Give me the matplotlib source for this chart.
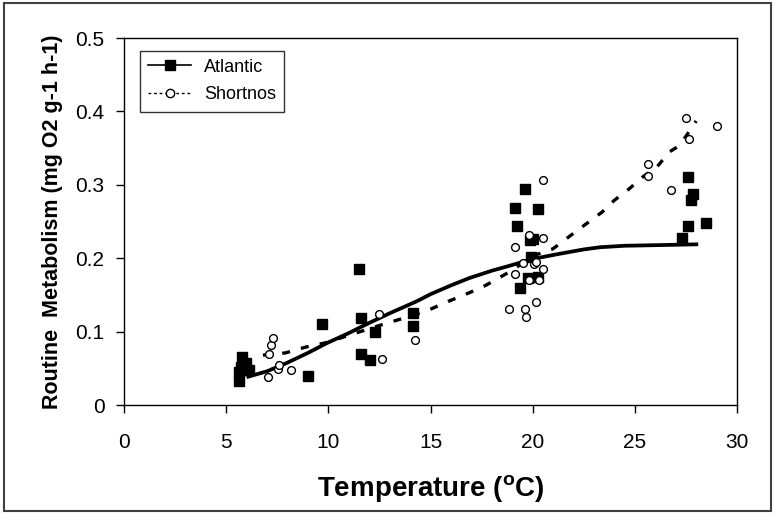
import matplotlib
matplotlib.use("Agg")
import matplotlib.pyplot as plt
from matplotlib.lines import Line2D
from matplotlib.patches import Rectangle

plt.rcParams['font.family'] = ['Liberation Sans', 'DejaVu Sans']
plt.rcParams['mathtext.fontset'] = 'custom'
plt.rcParams['mathtext.rm'] = 'Liberation Sans:bold'

# Atlantic sturgeon measurements
atl_temp = [5.62, 5.65, 5.72, 5.78, 5.98, 6.14, 9.0, 9.7, 11.48, 11.6, 11.6, 12.05,
            12.26, 14.14, 14.14, 19.15, 19.23, 19.36, 19.6, 19.77, 19.85, 20.0, 19.9,
            20.25, 20.25, 27.3, 27.6, 27.6, 27.76, 27.84, 28.5]
atl_rate = [0.033, 0.045, 0.052, 0.066, 0.057, 0.048, 0.0395, 0.111, 0.185, 0.118, 0.0695, 0.061,
            0.100, 0.126, 0.107, 0.269, 0.244, 0.160, 0.295, 0.173, 0.225, 0.226, 0.202,
            0.175, 0.267, 0.228, 0.310, 0.244, 0.280, 0.287, 0.248]

# Shortnose sturgeon measurements
sn_temp = [7.04, 7.12, 7.2, 7.28, 7.53, 7.6, 8.18, 12.47, 12.64, 14.22, 18.83, 19.15,
           19.15, 19.52, 19.6, 19.65, 19.8, 19.81, 20.04, 20.14, 20.18, 20.33, 20.5,
           20.5, 20.5, 25.64, 25.64, 26.75, 27.52, 27.65, 29.03]
sn_rate = [0.038, 0.069, 0.082, 0.092, 0.049, 0.0545, 0.048, 0.124, 0.063, 0.0886, 0.131, 0.215,
           0.178, 0.194, 0.131, 0.120, 0.170, 0.232, 0.192, 0.195, 0.141, 0.170, 0.306,
           0.228, 0.185, 0.328, 0.312, 0.293, 0.391, 0.363, 0.380]

# Trend curves
atl_fit_temp = [6.0, 7.0, 7.94, 9.0, 9.9, 11.0, 11.86, 13.0, 14.3, 15.0, 16.0, 16.9,
                18.0, 18.9, 20.0, 21.3, 22.5, 23.3, 24.5, 26.4, 28.1]
atl_fit_rate = [0.038, 0.046, 0.057, 0.071, 0.084, 0.098, 0.110, 0.125, 0.141, 0.151, 0.163, 0.173,
                0.183, 0.190, 0.199, 0.206, 0.212, 0.215, 0.217, 0.218, 0.219]

sn_fit_temp = [6.8, 7.9, 8.9, 9.9, 11.0, 12.8, 13.65, 14.87, 15.85, 16.9, 17.7, 18.9,
               19.5, 20.0, 21.0, 22.0, 23.4, 24.0, 24.7, 25.4, 26.1, 26.7, 27.1, 27.5, 28.0]
sn_fit_rate = [0.068, 0.071, 0.079, 0.085, 0.095, 0.111, 0.118, 0.129, 0.141, 0.153, 0.163, 0.182,
               0.193, 0.203, 0.213, 0.234, 0.263, 0.279, 0.294, 0.311, 0.325, 0.345, 0.352, 0.366, 0.387]

x_ticks = [0, 5, 10, 15, 20, 25, 30]
y_ticks = [0, 0.1, 0.2, 0.3, 0.4, 0.5]
y_tick_labels = ['0', '0.1', '0.2', '0.3', '0.4', '0.5']

fig = plt.figure(figsize=(7.75, 5.14), dpi=100)
ax = fig.add_axes([0.160, 0.212, 0.791, 0.714])

ax.plot(atl_fit_temp, atl_fit_rate, color='black', lw=2.7, solid_capstyle='butt', zorder=2)
ax.plot(sn_fit_temp, sn_fit_rate, color='black', lw=2.4, dashes=(2.4, 3.4), zorder=2)

ax.plot(atl_temp, atl_rate, linestyle='none', marker='s', ms=6.6,
        mfc='black', mec='black', zorder=3)
ax.plot(sn_temp, sn_rate, linestyle='none', marker='o', ms=5.6,
        mfc='white', mec='black', mew=1.0, zorder=4)

ax.set_xlim(0, 30)
ax.set_ylim(0, 0.5)
ax.set_xticks(x_ticks)
ax.set_xticklabels([str(t) for t in x_ticks])
ax.set_yticks(y_ticks)
ax.set_yticklabels(y_tick_labels)
ax.tick_params(axis='both', direction='out', length=6, width=1, labelsize=15, color='black')
ax.tick_params(axis='x', pad=14)
ax.tick_params(axis='y', pad=8)
for s in ax.spines.values():
    s.set_linewidth(1.0)
    s.set_color('black')

ax.set_xlabel(r'Temperature ($\mathregular{^{o}}$C)', fontsize=20, fontweight='bold', labelpad=15)
ax.set_ylabel('Routine  Metabolism (mg O2 g-1 h-1)', fontsize=15.5, fontweight='bold', labelpad=9)

handles = [
    Line2D([0], [0], color='black', lw=1.2, marker='s', ms=7, mfc='black', mec='black'),
    Line2D([0], [0], color='black', lw=1.0, dashes=(2, 2), marker='o', ms=6,
           mfc='white', mec='black', mew=1.0),
]
leg = ax.legend(handles, ['Atlantic', 'Shortnos'], loc='upper left',
                bbox_to_anchor=(0.026, 0.966), fontsize=13, frameon=True, fancybox=False,
                edgecolor='black', handlelength=2.4, handletextpad=0.7, labelspacing=0.6,
                borderpad=0.45, borderaxespad=0.0)
leg.get_frame().set_linewidth(1.0)

fig.patches.append(Rectangle((0.005, 0.005), 0.99, 0.99, transform=fig.transFigure,
                             fill=False, edgecolor='#404040', lw=1.5, zorder=0))

fig.savefig('out.png', dpi=100)
